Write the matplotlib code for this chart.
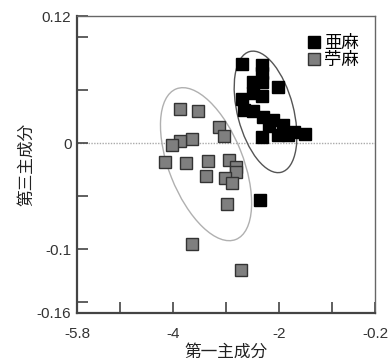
import numpy as np
import matplotlib
matplotlib.use('Agg')
import matplotlib.pyplot as plt
from matplotlib.patches import Ellipse

plt.rcParams['font.family'] = ['Liberation Sans', 'Noto Sans CJK JP', 'DejaVu Sans']

# 亜麻 (black squares)
flax_x = [-2.70, -2.33, -2.33, -2.02, -2.49, -2.33, -2.49, -2.33, -2.70, -2.67,
          -2.49, -2.30, -2.11, -1.92, -2.20, -1.83, -2.33, -2.02, -1.51, -1.73, -2.37]
flax_y = [0.075, 0.0735, 0.066, 0.0535, 0.058, 0.058, 0.047, 0.045, 0.042, 0.031,
          0.030, 0.025, 0.022, 0.017, 0.016, 0.008, 0.006, 0.008, 0.009, 0.011, -0.053]
# 苧麻 (gray squares)
ramie_x = [-3.86, -3.53, -3.13, -3.04, -3.64, -3.86, -4.02, -4.15, -3.75, -3.34,
           -2.94, -2.81, -2.82, -3.38, -3.02, -2.89, -2.99, -3.63, -2.72]
ramie_y = [0.032, 0.030, 0.015, 0.007, 0.004, 0.0025, -0.002, -0.018, -0.0185, -0.0166,
           -0.0157, -0.022, -0.027, -0.031, -0.033, -0.0376, -0.057, -0.095, -0.119]

labels = ['亜麻', '苧麻']
xticks = [-5.8, -5, -4, -3, -2, -1, -0.2]
xticklabels = ['-5.8', '', '-4', '', '-2', '', '-0.2']
yticks = [-0.16, -0.15, -0.1, -0.05, 0, 0.05, 0.1, 0.12]
yticklabels = ['-0.16', '', '-0.1', '', '0', '', '', '0.12']

# confidence ellipses: centre (data), width/height (axes fraction), angle
ell_centres = [(-2.257, 0.0296), (-3.375, -0.0197)]
ell_sizes = [(0.188, 0.42, 14.6), (0.249, 0.545, 21.5)]
ell_colors = ['#555555', '#b0b0b0']

fig = plt.figure(figsize=(3.9, 3.63), dpi=100)
ax = fig.add_axes([77/390, 50/363, 298/390, 297/363])
ax.set_xlim(-5.8, -0.2)
ax.set_ylim(-0.16, 0.12)

ax.axhline(0, color='#aaaaaa', lw=1.0, ls=(0, (1, 1)), zorder=1)

for c, (w, h, a), col in zip(ell_centres, ell_sizes, ell_colors):
    cx, cy = ax.transLimits.transform(c)
    ax.add_patch(Ellipse((cx, cy), w, h, angle=a, transform=ax.transAxes,
                         fill=False, ec=col, lw=1.0, zorder=2))

ax.plot(ramie_x, ramie_y, 's', ms=8.5, mfc='#7f7f7f', mec='#333333', mew=1.0,
        ls='none', label=labels[1], zorder=3)
ax.plot(flax_x, flax_y, 's', ms=8.5, mfc='black', mec='black', mew=1.0,
        ls='none', label=labels[0], zorder=4)

h, l = ax.get_legend_handles_labels()
ax.legend(h[::-1], l[::-1], loc='upper right', bbox_to_anchor=(0.98, 0.97),
          frameon=False, fontsize=12.5, handlelength=0.6, handletextpad=0.25,
          labelspacing=0.05, borderaxespad=0.2, markerscale=1.0)

ax.set_xticks(xticks)
ax.set_xticklabels(xticklabels)
ax.set_yticks(yticks)
ax.set_yticklabels(yticklabels)
ax.tick_params(direction='in', length=8, width=1.2, colors='#444444',
               labelsize=11, labelcolor='#333333')
ax.tick_params(axis='x', pad=10)
ax.tick_params(axis='y', pad=4)

for s in ['left', 'bottom']:
    ax.spines[s].set_color('#444444')
    ax.spines[s].set_linewidth(1.6)
for s in ['top', 'right']:
    ax.spines[s].set_color('#666666')
    ax.spines[s].set_linewidth(1.0)

ax.set_xlabel('第一主成分', fontsize=12, color='#222222', labelpad=2)
ax.set_ylabel('第三主成分', fontsize=12, color='#222222', labelpad=2)

fig.savefig('out.png', dpi=100)
